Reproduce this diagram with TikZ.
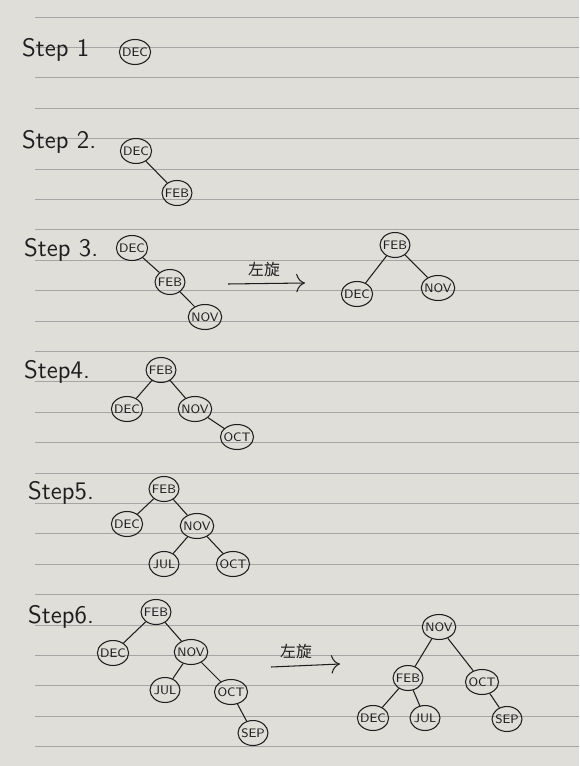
\documentclass[tikz,border=0pt]{standalone}
\usepackage{fontspec}
\usetikzlibrary{arrows.meta,shapes.geometric}
\newfontfamily\cjk{Noto Sans CJK SC}
\definecolor{paper}{RGB}{224,222,217}
\definecolor{ruling}{RGB}{165,165,165}
\definecolor{ink}{RGB}{30,30,30}
\tikzset{
  key/.style={ellipse,draw=ink,semithick,text=ink,font=\sffamily\scriptsize,inner xsep=-1pt,inner ysep=0.5pt,minimum width=0.6cm,minimum height=0.5cm},
  lnk/.style={draw=ink,semithick},
  steplbl/.style={font=\sffamily\Large,text=ink,anchor=west},
  rot/.style={draw=ink,semithick,-{To[length=5pt]}},
  rotlbl/.style={font=\cjk\small,text=ink}
}
\begin{document}
\begin{tikzpicture}[x=0.02cm,y=-0.02cm]
      \useasboundingbox (0,0) rectangle (579,766);
      \fill[paper] (0,0) rectangle (579,766);
      % notebook ruling
      \foreach \k in {0,...,24} \draw[ruling,thin] (35,17+30.4*\k) -- (579,17+30.4*\k);
      % step 1
      \node[steplbl] (st1) at (16,50) {Step 1};
      \node[key] (s1dec) at (135,52) {DEC};
      % step 2
      \node[steplbl] (st2) at (16,142) {Step 2.};
      \node[key] (s2dec) at (136,151) {DEC}; \node[key] (s2feb) at (177,193) {FEB};
      \draw[lnk] (s2dec) -- (s2feb);
      % step 3
      \node[steplbl] (st3) at (18,250) {Step 3.};
      \node[key] (s3dec) at (132,248) {DEC}; \node[key] (s3feb) at (170,282) {FEB}; \node[key] (s3nov) at (205,317) {NOV};
      \draw[lnk] (s3dec) -- (s3feb); \draw[lnk] (s3feb) -- (s3nov);
      \coordinate (r3a) at (228,284); \coordinate (r3b) at (305,283);
      \draw[rot] (r3a) -- (r3b); \node[rotlbl] (r3l) at (264,269) {左旋};
      \node[key] (t3feb) at (395,245) {FEB}; \node[key] (t3dec) at (357,294) {DEC}; \node[key] (t3nov) at (438,288) {NOV};
      \draw[lnk] (t3feb) -- (t3dec); \draw[lnk] (t3feb) -- (t3nov);
      % step 4
      \node[steplbl] (st4) at (18,372) {Step4.};
      \node[key] (s4feb) at (161,370) {FEB}; \node[key] (s4dec) at (127,409) {DEC}; \node[key] (s4nov) at (195,409) {NOV}; \node[key] (s4oct) at (237,437) {OCT};
      \draw[lnk] (s4feb) -- (s4dec); \draw[lnk] (s4feb) -- (s4nov); \draw[lnk] (s4nov) -- (s4oct);
      % step 5
      \node[steplbl] (st5) at (22,493) {Step5.};
      \node[key] (s5feb) at (164,489) {FEB}; \node[key] (s5dec) at (127,524) {DEC}; \node[key] (s5nov) at (197,526) {NOV};
      \node[key] (s5jul) at (164,564) {JUL}; \node[key] (s5oct) at (233,564) {OCT};
      \draw[lnk] (s5feb) -- (s5dec); \draw[lnk] (s5feb) -- (s5nov); \draw[lnk] (s5nov) -- (s5jul); \draw[lnk] (s5nov) -- (s5oct);
      % step 6
      \node[steplbl] (st6) at (22,617) {Step6.};
      \node[key] (s6feb) at (156,612) {FEB}; \node[key] (s6dec) at (113,653) {DEC}; \node[key] (s6nov) at (191,652) {NOV};
      \node[key] (s6jul) at (165,690) {JUL}; \node[key] (s6oct) at (231,692) {OCT}; \node[key] (s6sep) at (253,733) {SEP};
      \draw[lnk] (s6feb) -- (s6dec); \draw[lnk] (s6feb) -- (s6nov); \draw[lnk] (s6nov) -- (s6jul); \draw[lnk] (s6nov) -- (s6oct); \draw[lnk] (s6oct) -- (s6sep);
      \coordinate (r6a) at (271,667); \coordinate (r6b) at (340,664);
      \draw[rot] (r6a) -- (r6b); \node[rotlbl] (r6l) at (296,651) {左旋};
      \node[key] (t6nov) at (439,627) {NOV}; \node[key] (t6feb) at (408,678) {FEB}; \node[key] (t6oct) at (482,682) {OCT};
      \node[key] (t6dec) at (373,718) {DEC}; \node[key] (t6jul) at (425,718) {JUL}; \node[key] (t6sep) at (507,719) {SEP};
      \draw[lnk] (t6nov) -- (t6feb); \draw[lnk] (t6nov) -- (t6oct); \draw[lnk] (t6feb) -- (t6dec); \draw[lnk] (t6feb) -- (t6jul); \draw[lnk] (t6oct) -- (t6sep);
\end{tikzpicture}
\end{document}
